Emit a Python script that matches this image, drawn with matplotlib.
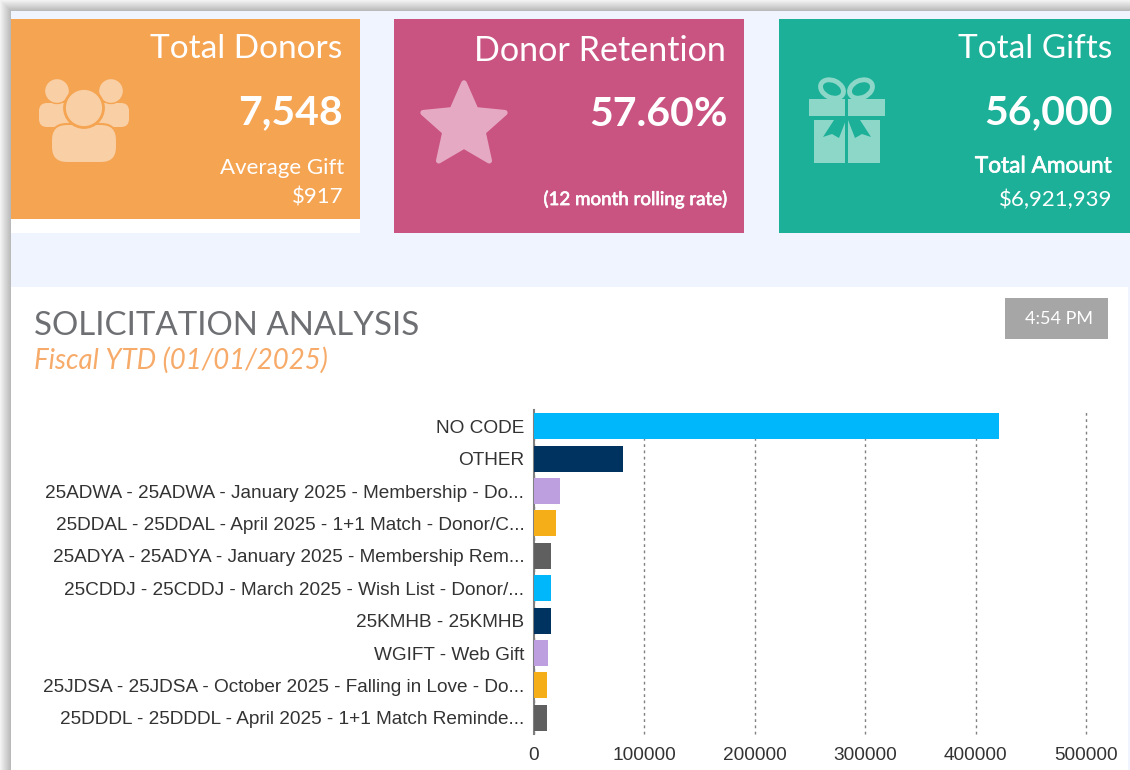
import matplotlib
matplotlib.use('Agg')
import matplotlib.pyplot as plt
from matplotlib.patches import Rectangle, Circle, FancyBboxPatch, Polygon, Ellipse
import matplotlib.patheffects as pe
import numpy as np

plt.rcParams['font.family'] = ['Liberation Sans', 'DejaVu Sans']

# chart data
categories = ['NO CODE', 'OTHER',
              '25ADWA - 25ADWA - January 2025 - Membership - Do...',
              '25DDAL - 25DDAL - April 2025 - 1+1 Match - Donor/C...',
              '25ADYA - 25ADYA - January 2025 - Membership Rem...',
              '25CDDJ - 25CDDJ - March 2025 - Wish List - Donor/...',
              '25KMHB - 25KMHB',
              'WGIFT - Web Gift',
              '25JDSA - 25JDSA - October 2025 - Falling in Love - Do...',
              '25DDDL - 25DDDL - April 2025 - 1+1 Match Reminde...']
amounts = [421000, 80600, 23800, 20100, 15800, 15400, 15000, 12900, 11800, 11500]
bar_colors = ['#00b7fb', '#00335f', '#bd9fe0', '#f5ae18', '#5f5f5f',
              '#00b7fb', '#00335f', '#bd9fe0', '#f5ae18', '#5f5f5f']
x_ticks = [0, 100000, 200000, 300000, 400000, 500000]

W, H = 1130, 770
fig = plt.figure(figsize=(W / 100, H / 100), dpi=100, facecolor='#f0f4fe')

# pixel canvas for the dashboard cards
bg = fig.add_axes([0, 0, 1, 1])
bg.set_xlim(0, W)
bg.set_ylim(H, 0)
bg.axis('off')

# window shadow top and left, darker towards the content
for i in range(11):
    g = 0.95 - 0.022 * i
    bg.add_patch(Rectangle((i, i), W, 1, color=str(g), lw=0))
    bg.add_patch(Rectangle((i, i), 1, H, color=str(g), lw=0))

LATO = ['Lato', 'DejaVu Sans']

def card_text(x, y, s, size, color='white', weight='normal', heavy=False):
    t = bg.text(x, y, s, ha='right', va='center', fontsize=size, color=color,
                fontweight=weight, family=LATO)
    if heavy:
        # semi-bold look, Lato has no medium weight here
        t.set_path_effects([pe.withStroke(linewidth=0.5, foreground=color)])

# cards
bg.add_patch(Rectangle((11, 219), 349, 14, color='white', lw=0))
bg.add_patch(Rectangle((11, 19), 349, 200, color='#f5a452', lw=0))
bg.add_patch(Rectangle((394, 19), 350, 214, color='#c95381', lw=0))
bg.add_patch(Rectangle((779, 19), 351, 214, color='#1cb098', lw=0))

card_text(342, 49, 'Total Donors', 24)
card_text(343, 113, '7,548', 29.5, weight='bold')
card_text(344, 168, 'Average Gift', 16)
card_text(344, 198, '$917', 16)

card_text(726, 51, 'Donor Retention', 24.6)
card_text(728, 115, '57.60%', 29.5, weight='bold')
card_text(728, 199, '(12 month rolling rate)', 13.5, heavy=True)

card_text(1112, 49, 'Total Gifts', 24)
card_text(1113, 113, '56,000', 29.5, weight='bold')
card_text(1112, 166, 'Total Amount', 16.3, heavy=True)
card_text(1112, 200, '$6,921,939', 16)

# people icon
people = '#f9d0a6'
edge = '#f5a452'
bg.add_patch(FancyBboxPatch((39, 103), 32, 24, boxstyle='round,pad=0,rounding_size=8', fc=people, ec='none'))
bg.add_patch(FancyBboxPatch((97, 103), 32, 24, boxstyle='round,pad=0,rounding_size=8', fc=people, ec='none'))
bg.add_patch(Circle((57, 91), 12.5, fc=people, ec=edge, lw=1))
bg.add_patch(Circle((111, 91), 12.5, fc=people, ec=edge, lw=1))
bg.add_patch(FancyBboxPatch((51, 124), 66, 39, boxstyle='round,pad=0,rounding_size=16', fc=people, ec=edge, lw=1.5))
bg.add_patch(Circle((84, 108), 19.5, fc=people, ec=edge, lw=2))

# star icon
star_c = (464, 126)
ang = np.deg2rad(np.arange(-90, 270, 36))
rad = np.array([43, 20] * 5)
star_pts = np.column_stack([star_c[0] + rad * np.cos(ang), star_c[1] + rad * np.sin(ang)])
bg.add_patch(Polygon(star_pts, closed=True, fc='#e6a9c3', ec='#e6a9c3', lw=4, joinstyle='round'))

# gift icon
gift = '#8dd7c9'
teal = '#1cb098'
bg.add_patch(Rectangle((809, 99), 76, 17, color=gift, lw=0))
bg.add_patch(Rectangle((814, 120), 66, 43, color=gift, lw=0))
bg.add_patch(Rectangle((845, 99), 3, 64, color=teal, lw=0))
bg.add_patch(Ellipse((832, 89), 24, 17, angle=25, fc='none', ec=gift, lw=3.5))
bg.add_patch(Ellipse((861, 89), 24, 17, angle=-25, fc='none', ec=gift, lw=3.5))
bg.add_patch(Polygon([(846, 120), (839, 138), (832, 134), (823, 137), (834, 120)], fc=teal, ec='none'))
bg.add_patch(Polygon([(848, 120), (855, 138), (862, 134), (871, 137), (860, 120)], fc=teal, ec='none'))

# white panel
bg.add_patch(Rectangle((11, 287), 1117, 483, color='white', lw=0))
bg.text(34, 326, 'SOLICITATION ANALYSIS', ha='left', va='center', fontsize=23.8,
        color='#6d6f72', family=LATO)
bg.text(34, 360, 'Fiscal YTD (01/01/2025)', ha='left', va='center', fontsize=19.9,
        color='#f7ab6a', style='italic', family=LATO)
bg.add_patch(Rectangle((1005, 298), 103, 41, color='#a6a6a6', lw=0))
bg.text(1059, 319, '4:54 PM', ha='center', va='center', fontsize=13, color='white', family=LATO)

# bar chart, positioned in pixels
left, right, top, bottom = 534, 1086, 410, 734
ax = fig.add_axes([left / W, 1 - bottom / H, (right - left) / W, (bottom - top) / H])
ax.patch.set_alpha(0)
y = np.arange(len(categories))
ax.barh(y, amounts, height=0.8, color=bar_colors, zorder=3)
ax.set_ylim(len(categories) - 0.5, -0.5)
ax.set_xlim(0, 500000)
ax.set_yticks(y)
ax.set_yticklabels(categories, fontsize=13.65, color='#333333')
ax.set_xticks(x_ticks)
ax.set_xticklabels([str(t) for t in x_ticks], fontsize=13.65, color='#333333')
ax.xaxis.grid(True, ls=(0, (2, 2.5)), lw=1, color='#808080', zorder=0)
for line in ax.get_xgridlines():
    line.set_clip_on(False)
ax.tick_params(axis='both', length=0)
ax.tick_params(axis='y', pad=7)
ax.tick_params(axis='x', pad=9.5)
for side in ['top', 'right', 'bottom']:
    ax.spines[side].set_visible(False)
ax.spines['left'].set_color('#808080')
ax.spines['left'].set_linewidth(1.5)

fig.savefig('out.png', dpi=100, facecolor=fig.get_facecolor())
